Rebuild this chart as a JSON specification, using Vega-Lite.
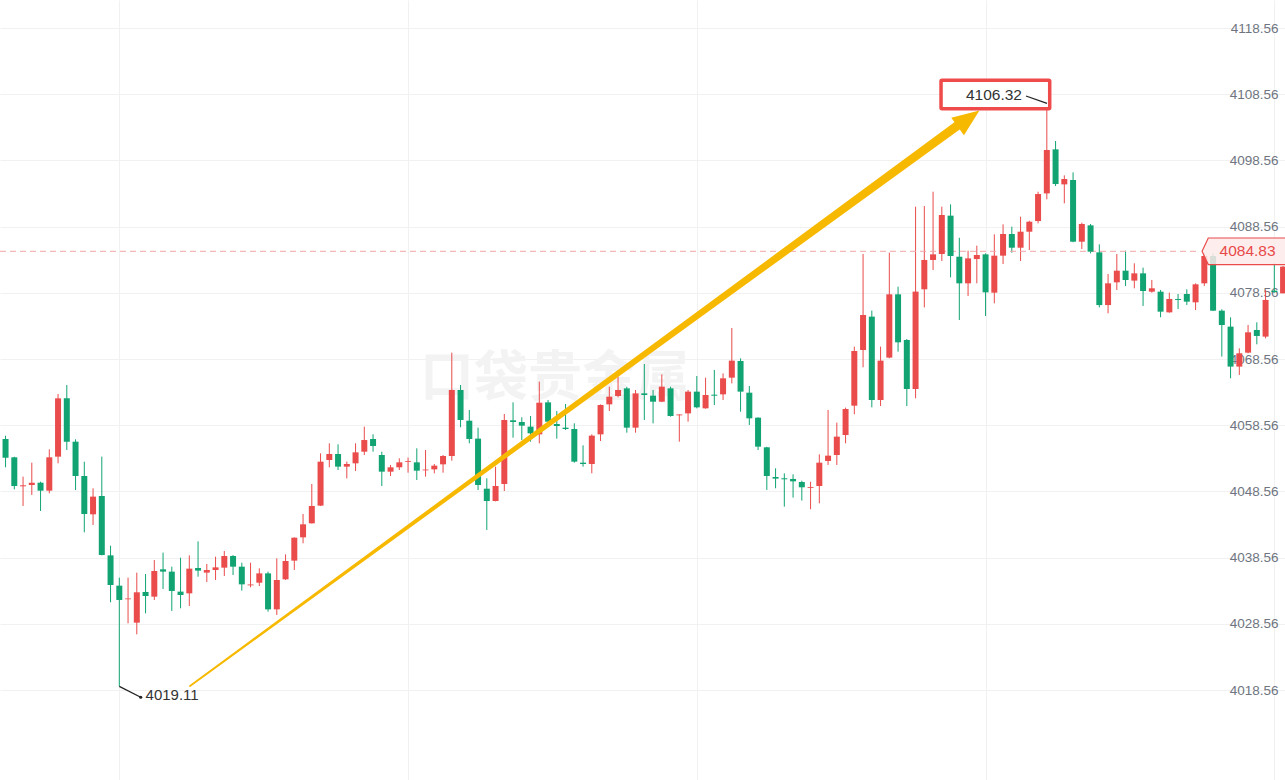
{
  "$schema": "https://vega.github.io/schema/vega-lite/v6.json",
  "width": 1285,
  "height": 780,
  "autosize": {"type": "none"},
  "padding": 0,
  "background": "#ffffff",
  "config": {"view": {"stroke": null}},
  "datasets": {
    "k": [
      {"i":1,"o":4056.48,"h":4056.98,"l":4052.20,"c":4053.66},
      {"i":2,"o":4053.71,"h":4053.80,"l":4048.87,"c":4049.38},
      {"i":3,"o":4049.33,"h":4050.79,"l":4046.36,"c":4049.48},
      {"i":4,"o":4049.53,"h":4052.90,"l":4048.02,"c":4049.88},
      {"i":5,"o":4049.88,"h":4050.03,"l":4045.60,"c":4048.67},
      {"i":6,"o":4048.67,"h":4054.92,"l":4048.27,"c":4053.71},
      {"i":7,"o":4053.81,"h":4063.27,"l":4052.80,"c":4062.62},
      {"i":8,"o":4062.62,"h":4064.63,"l":4054.82,"c":4056.07},
      {"i":9,"o":4056.07,"h":4056.43,"l":4048.77,"c":4050.89},
      {"i":10,"o":4050.89,"h":4053.05,"l":4042.38,"c":4045.15},
      {"i":11,"o":4045.10,"h":4049.02,"l":4043.49,"c":4047.77},
      {"i":12,"o":4047.87,"h":4053.81,"l":4038.90,"c":4038.95},
      {"i":13,"o":4038.90,"h":4040.36,"l":4031.80,"c":4034.42},
      {"i":14,"o":4034.32,"h":4035.53,"l":4019.11,"c":4032.16},
      {"i":15,"o":4032.26,"h":4035.53,"l":4028.63,"c":4032.40},
      {"i":16,"o":4028.73,"h":4036.29,"l":4026.97,"c":4033.32},
      {"i":17,"o":4033.37,"h":4036.08,"l":4030.14,"c":4032.76},
      {"i":18,"o":4032.66,"h":4038.20,"l":4032.16,"c":4036.54},
      {"i":19,"o":4036.79,"h":4039.31,"l":4033.82,"c":4036.44},
      {"i":20,"o":4036.44,"h":4037.19,"l":4030.50,"c":4033.52},
      {"i":21,"o":4033.42,"h":4038.55,"l":4030.90,"c":4032.91},
      {"i":22,"o":4033.16,"h":4038.90,"l":4031.25,"c":4036.89},
      {"i":23,"o":4036.99,"h":4041.02,"l":4035.68,"c":4036.59},
      {"i":24,"o":4036.29,"h":4037.60,"l":4034.88,"c":4036.69},
      {"i":25,"o":4036.69,"h":4038.70,"l":4035.18,"c":4037.09},
      {"i":26,"o":4037.04,"h":4039.56,"l":4035.78,"c":4038.80},
      {"i":27,"o":4038.80,"h":4038.95,"l":4035.93,"c":4037.19},
      {"i":28,"o":4037.19,"h":4037.79,"l":4033.57,"c":4034.52},
      {"i":29,"o":4034.37,"h":4037.79,"l":4034.07,"c":4034.50},
      {"i":30,"o":4034.77,"h":4036.94,"l":4034.27,"c":4036.18},
      {"i":31,"o":4036.18,"h":4036.44,"l":4030.39,"c":4030.74},
      {"i":32,"o":4030.74,"h":4038.45,"l":4029.89,"c":4035.18},
      {"i":33,"o":4035.28,"h":4039.05,"l":4035.18,"c":4038.05},
      {"i":34,"o":4038.10,"h":4041.62,"l":4036.69,"c":4041.57},
      {"i":35,"o":4041.62,"h":4045.15,"l":4040.72,"c":4043.59},
      {"i":36,"o":4043.74,"h":4049.68,"l":4043.70,"c":4046.36},
      {"i":37,"o":4046.41,"h":4054.31,"l":4046.36,"c":4053.05},
      {"i":38,"o":4053.30,"h":4055.82,"l":4052.20,"c":4054.21},
      {"i":39,"o":4054.21,"h":4055.67,"l":4051.79,"c":4052.30},
      {"i":40,"o":4052.30,"h":4053.05,"l":4050.53,"c":4052.70},
      {"i":41,"o":4052.80,"h":4055.82,"l":4051.64,"c":4054.46},
      {"i":42,"o":4054.56,"h":4058.34,"l":4054.06,"c":4056.32},
      {"i":43,"o":4056.48,"h":4057.18,"l":4054.56,"c":4055.42},
      {"i":44,"o":4054.06,"h":4054.56,"l":4049.38,"c":4051.54},
      {"i":45,"o":4051.54,"h":4052.55,"l":4050.89,"c":4052.20},
      {"i":46,"o":4052.20,"h":4053.56,"l":4051.79,"c":4052.95},
      {"i":47,"o":4053.00,"h":4053.66,"l":4051.39,"c":4053.12},
      {"i":48,"o":4052.95,"h":4055.07,"l":4050.28,"c":4051.69},
      {"i":49,"o":4051.74,"h":4054.81,"l":4050.79,"c":4051.86},
      {"i":50,"o":4051.89,"h":4052.70,"l":4051.29,"c":4052.45},
      {"i":51,"o":4052.65,"h":4054.06,"l":4051.39,"c":4053.91},
      {"i":52,"o":4053.91,"h":4069.52,"l":4053.20,"c":4063.88},
      {"i":53,"o":4063.88,"h":4064.63,"l":4058.24,"c":4059.35},
      {"i":54,"o":4059.24,"h":4060.86,"l":4055.82,"c":4056.48},
      {"i":55,"o":4056.53,"h":4058.19,"l":4048.77,"c":4049.53},
      {"i":56,"o":4048.97,"h":4050.53,"l":4042.73,"c":4047.11},
      {"i":57,"o":4047.11,"h":4052.30,"l":4047.05,"c":4049.38},
      {"i":58,"o":4049.68,"h":4060.25,"l":4048.62,"c":4059.35},
      {"i":59,"o":4059.30,"h":4062.01,"l":4056.68,"c":4059.04},
      {"i":60,"o":4059.04,"h":4059.75,"l":4056.32,"c":4058.49},
      {"i":61,"o":4058.34,"h":4059.95,"l":4056.07,"c":4057.33},
      {"i":62,"o":4057.18,"h":4065.14,"l":4055.82,"c":4061.96},
      {"i":63,"o":4062.01,"h":4062.37,"l":4058.34,"c":4059.09},
      {"i":64,"o":4058.74,"h":4060.70,"l":4056.53,"c":4058.44},
      {"i":65,"o":4058.19,"h":4061.76,"l":4057.83,"c":4057.99},
      {"i":66,"o":4057.99,"h":4058.84,"l":4052.90,"c":4053.05},
      {"i":67,"o":4052.90,"h":4055.52,"l":4052.30,"c":4052.70},
      {"i":68,"o":4052.70,"h":4057.18,"l":4051.29,"c":4056.98},
      {"i":69,"o":4057.18,"h":4061.70,"l":4056.17,"c":4061.61},
      {"i":70,"o":4061.71,"h":4064.38,"l":4060.70,"c":4062.87},
      {"i":71,"o":4062.97,"h":4065.89,"l":4062.77,"c":4063.88},
      {"i":72,"o":4064.13,"h":4064.38,"l":4057.43,"c":4058.19},
      {"i":73,"o":4058.19,"h":4063.88,"l":4057.43,"c":4063.37},
      {"i":74,"o":4063.37,"h":4067.80,"l":4059.35,"c":4063.12},
      {"i":75,"o":4063.02,"h":4063.88,"l":4058.84,"c":4062.11},
      {"i":76,"o":4062.11,"h":4066.24,"l":4062.05,"c":4064.38},
      {"i":77,"o":4064.13,"h":4064.38,"l":4059.85,"c":4059.95},
      {"i":78,"o":4060.05,"h":4060.20,"l":4056.07,"c":4060.18},
      {"i":79,"o":4060.35,"h":4063.88,"l":4059.09,"c":4063.63},
      {"i":80,"o":4063.63,"h":4065.99,"l":4061.11,"c":4061.26},
      {"i":81,"o":4061.11,"h":4065.74,"l":4061.05,"c":4063.12},
      {"i":82,"o":4063.17,"h":4066.90,"l":4061.61,"c":4063.02},
      {"i":83,"o":4063.22,"h":4066.39,"l":4062.37,"c":4065.64},
      {"i":84,"o":4065.74,"h":4073.24,"l":4064.88,"c":4068.31},
      {"i":85,"o":4068.26,"h":4068.66,"l":4060.60,"c":4063.63},
      {"i":86,"o":4063.47,"h":4064.48,"l":4058.59,"c":4059.60},
      {"i":87,"o":4059.70,"h":4059.75,"l":4054.81,"c":4055.32},
      {"i":88,"o":4055.22,"h":4055.30,"l":4048.78,"c":4050.89},
      {"i":89,"o":4050.74,"h":4052.05,"l":4049.03,"c":4050.49},
      {"i":90,"o":4050.54,"h":4051.29,"l":4046.26,"c":4050.39},
      {"i":91,"o":4050.44,"h":4051.14,"l":4047.62,"c":4050.08},
      {"i":92,"o":4049.98,"h":4050.18,"l":4047.17,"c":4049.18},
      {"i":93,"o":4049.10,"h":4050.03,"l":4045.86,"c":4049.23},
      {"i":94,"o":4049.38,"h":4054.16,"l":4046.76,"c":4052.90},
      {"i":95,"o":4053.16,"h":4060.86,"l":4052.55,"c":4053.96},
      {"i":96,"o":4054.06,"h":4058.95,"l":4052.55,"c":4056.83},
      {"i":97,"o":4057.08,"h":4061.21,"l":4055.82,"c":4061.01},
      {"i":98,"o":4061.51,"h":4070.43,"l":4060.21,"c":4069.77},
      {"i":99,"o":4069.92,"h":4084.43,"l":4067.31,"c":4075.21},
      {"i":100,"o":4074.96,"h":4075.87,"l":4061.26,"c":4062.37},
      {"i":101,"o":4062.37,"h":4070.43,"l":4061.46,"c":4068.31},
      {"i":102,"o":4068.77,"h":4084.63,"l":4068.66,"c":4078.33},
      {"i":103,"o":4078.33,"h":4079.49,"l":4069.67,"c":4071.08},
      {"i":104,"o":4071.43,"h":4071.58,"l":4061.46,"c":4064.03},
      {"i":105,"o":4064.03,"h":4091.57,"l":4062.62,"c":4078.74},
      {"i":106,"o":4079.09,"h":4091.67,"l":4076.35,"c":4083.52},
      {"i":107,"o":4083.52,"h":4093.83,"l":4082.00,"c":4084.37},
      {"i":108,"o":4084.42,"h":4091.57,"l":4083.37,"c":4090.31},
      {"i":109,"o":4090.21,"h":4091.92,"l":4080.89,"c":4084.12},
      {"i":110,"o":4084.01,"h":4086.88,"l":4074.45,"c":4079.99},
      {"i":111,"o":4079.99,"h":4084.92,"l":4078.07,"c":4083.76},
      {"i":112,"o":4083.66,"h":4085.68,"l":4079.99,"c":4084.27},
      {"i":113,"o":4084.37,"h":4084.52,"l":4075.05,"c":4078.63},
      {"i":114,"o":4078.58,"h":4087.39,"l":4076.97,"c":4084.17},
      {"i":115,"o":4084.17,"h":4088.90,"l":4082.91,"c":4087.44},
      {"i":116,"o":4087.44,"h":4088.55,"l":4084.62,"c":4085.37},
      {"i":117,"o":4085.37,"h":4090.06,"l":4083.36,"c":4087.79},
      {"i":118,"o":4087.79,"h":4089.45,"l":4085.02,"c":4089.30},
      {"i":119,"o":4089.40,"h":4093.83,"l":4089.05,"c":4093.48},
      {"i":120,"o":4093.58,"h":4106.32,"l":4092.68,"c":4100.13},
      {"i":121,"o":4100.23,"h":4101.49,"l":4094.69,"c":4094.99},
      {"i":122,"o":4094.94,"h":4096.30,"l":4092.07,"c":4095.75},
      {"i":123,"o":4095.60,"h":4096.75,"l":4086.20,"c":4086.28},
      {"i":124,"o":4086.28,"h":4089.15,"l":4085.17,"c":4088.95},
      {"i":125,"o":4088.75,"h":4088.95,"l":4084.52,"c":4084.77},
      {"i":126,"o":4084.67,"h":4085.88,"l":4076.36,"c":4076.71},
      {"i":127,"o":4076.71,"h":4081.40,"l":4075.46,"c":4079.99},
      {"i":128,"o":4080.14,"h":4084.42,"l":4078.98,"c":4081.90},
      {"i":129,"o":4081.90,"h":4084.92,"l":4079.58,"c":4080.49},
      {"i":130,"o":4080.40,"h":4083.01,"l":4079.24,"c":4081.50},
      {"i":131,"o":4081.50,"h":4082.36,"l":4076.57,"c":4078.83},
      {"i":132,"o":4078.73,"h":4080.50,"l":4078.58,"c":4079.24},
      {"i":133,"o":4078.73,"h":4078.99,"l":4074.86,"c":4075.71},
      {"i":134,"o":4075.61,"h":4078.58,"l":4075.56,"c":4077.63},
      {"i":135,"o":4077.63,"h":4078.38,"l":4076.12,"c":4077.48},
      {"i":136,"o":4078.38,"h":4079.09,"l":4076.72,"c":4077.22},
      {"i":137,"o":4077.12,"h":4079.99,"l":4075.96,"c":4079.84},
      {"i":138,"o":4079.99,"h":4084.52,"l":4079.59,"c":4084.12},
      {"i":139,"o":4084.12,"h":4084.52,"l":4075.80,"c":4075.86},
      {"i":140,"o":4075.86,"h":4076.07,"l":4068.92,"c":4073.70},
      {"i":141,"o":4073.45,"h":4074.86,"l":4065.64,"c":4067.41},
      {"i":142,"o":4067.41,"h":4070.17,"l":4066.15,"c":4069.42},
      {"i":143,"o":4069.52,"h":4073.70,"l":4069.42,"c":4072.59},
      {"i":144,"o":4072.94,"h":4074.10,"l":4070.78,"c":4072.04},
      {"i":145,"o":4071.94,"h":4078.99,"l":4071.68,"c":4077.48},
      {"i":146,"o":4078.89,"h":4083.01,"l":4078.58,"c":4078.68},
      {"i":147,"o":4078.48,"h":4082.60,"l":4078.48,"c":4082.51}
    ]
  },
  "layer": [
    {
      "data": {"values": [{"i": 63.8, "v": 4065.4, "t": "口袋贵金属"}]},
      "mark": {"type": "text", "font": "Noto Sans CJK SC", "fontWeight": "bold", "fontSize": 54, "color": "#f3f3f3", "align": "center", "baseline": "middle"},
      "encoding": {
        "x": {"field": "i", "type": "quantitative"},
        "y": {"field": "v", "type": "quantitative"},
        "text": {"field": "t"}
      }
    },
    {
      "data": {"name": "k"},
      "mark": {"type": "rule", "strokeWidth": 1, "clip": true},
      "encoding": {
        "x": {
          "field": "i", "type": "quantitative",
          "scale": {"domain": [0.3657, 147.22], "nice": false, "zero": false, "padding": 0},
          "axis": {"values": [14, 47, 80, 113, 146], "grid": true, "gridColor": "#f1f1f1", "labels": false, "ticks": false, "domain": false, "title": null}
        },
        "y": {
          "field": "l", "type": "quantitative",
          "scale": {"domain": [4004.965, 4122.79], "nice": false, "zero": false, "padding": 0},
          "axis": {
            "orient": "right", "title": null, "domain": false, "ticks": false,
            "values": [4018.56, 4028.56, 4038.56, 4048.56, 4058.56, 4068.56, 4078.56, 4088.56, 4098.56, 4108.56, 4118.56],
            "format": ".2f", "grid": true, "gridColor": "#f1f1f1",
            "labelAlign": "right", "labelBaseline": "middle", "labelPadding": -7,
            "labelFlush": false, "labelOverlap": false,
            "labelFont": "Liberation Sans", "labelFontSize": 13.5, "labelColor": "#6e7580"
          }
        },
        "y2": {"field": "h"},
        "color": {"condition": {"test": "datum.c >= datum.o", "value": "#ea4b4b"}, "value": "#11a472"}
      }
    },
    {
      "data": {"values": [{"a": 0.3657, "b": 137.4, "v": 4084.83}]},
      "mark": {"type": "rule", "color": "#f3a5a5", "strokeWidth": 1, "strokeDash": [6, 4]},
      "encoding": {
        "x": {"field": "a", "type": "quantitative"},
        "x2": {"field": "b"},
        "y": {"field": "v", "type": "quantitative"}
      }
    },
    {
      "data": {"name": "k"},
      "mark": {"type": "bar", "size": 6, "clip": true},
      "encoding": {
        "x": {"field": "i", "type": "quantitative"},
        "y": {"field": "o", "type": "quantitative"},
        "y2": {"field": "c"},
        "color": {"condition": {"test": "datum.c >= datum.o", "value": "#ea4b4b"}, "value": "#11a472"}
      }
    },
    {
      "data": {"values": [
        {"i": 22.08, "v": 4019.17, "w": 1.8, "n": 1},
        {"i": 109.74, "v": 4103.76, "w": 9, "n": 2}
      ]},
      "mark": {"type": "trail", "color": "#f7b900"},
      "encoding": {
        "x": {"field": "i", "type": "quantitative"},
        "y": {"field": "v", "type": "quantitative"},
        "size": {"field": "w", "type": "quantitative", "scale": null},
        "order": {"field": "n"}
      }
    },
    {
      "data": {"values": [{"i": 111.05, "v": 4104.89}]},
      "mark": {"type": "point", "shape": "M1,0L-1,-0.8L-1,0.8Z", "size": 729, "angle": -36.1, "filled": true, "color": "#f7b900", "opacity": 1, "strokeWidth": 0},
      "encoding": {
        "x": {"field": "i", "type": "quantitative"},
        "y": {"field": "v", "type": "quantitative"}
      }
    },
    {
      "data": {"values": [{"a": 14, "va": 4019.11, "b": 16.45, "vb": 4017.46}]},
      "mark": {"type": "rule", "color": "#222222", "strokeWidth": 1.3},
      "encoding": {
        "x": {"field": "a", "type": "quantitative"},
        "y": {"field": "va", "type": "quantitative"},
        "x2": {"field": "b"},
        "y2": {"field": "vb"}
      }
    },
    {
      "data": {"values": [{"i": 16.45, "v": 4017.46}, {"i": 117.62, "v": 4108.29}]},
      "mark": {"type": "point", "shape": "circle", "size": 10, "filled": true, "color": "#222222", "opacity": 1},
      "encoding": {
        "x": {"field": "i", "type": "quantitative"},
        "y": {"field": "v", "type": "quantitative"}
      }
    },
    {
      "data": {"values": [{"i": 17.0, "v": 4017.8, "t": "4019.11"}]},
      "mark": {"type": "text", "font": "Liberation Sans", "fontSize": 15, "color": "#333333", "align": "left", "baseline": "middle"},
      "encoding": {
        "x": {"field": "i", "type": "quantitative"},
        "y": {"field": "v", "type": "quantitative"},
        "text": {"field": "t"}
      }
    },
    {
      "data": {"values": [{"a": 107.91, "b": 120.33, "va": 4110.66, "vb": 4106.37}]},
      "mark": {"type": "rect", "fill": "#ffffff", "stroke": "#ef4b4b", "strokeWidth": 3.5, "cornerRadius": 1},
      "encoding": {
        "x": {"field": "a", "type": "quantitative"},
        "x2": {"field": "b"},
        "y": {"field": "va", "type": "quantitative"},
        "y2": {"field": "vb"}
      }
    },
    {
      "data": {"values": [{"i": 117.16, "v": 4108.44, "t": "4106.32"}]},
      "mark": {"type": "text", "font": "Liberation Sans", "fontSize": 15.5, "color": "#333333", "align": "right", "baseline": "middle"},
      "encoding": {
        "x": {"field": "i", "type": "quantitative"},
        "y": {"field": "v", "type": "quantitative"},
        "text": {"field": "t"}
      }
    },
    {
      "data": {"values": [{"a": 117.62, "va": 4108.29, "b": 120.02, "vb": 4107.19}]},
      "mark": {"type": "rule", "color": "#222222", "strokeWidth": 1.3},
      "encoding": {
        "x": {"field": "a", "type": "quantitative"},
        "y": {"field": "va", "type": "quantitative"},
        "x2": {"field": "b"},
        "y2": {"field": "vb"}
      }
    },
    {
      "data": {"values": [{"i": 142.8, "v": 4084.83}]},
      "mark": {"type": "point", "shape": "M-1,0L-0.86,-0.3L1,-0.3L1,0.3L-0.86,0.3Z", "size": 7832, "filled": true, "fill": "#fdeaea", "fillOpacity": 0.85, "stroke": "#ea4b4b", "strokeWidth": 1.2, "opacity": 1},
      "encoding": {
        "x": {"field": "i", "type": "quantitative"},
        "y": {"field": "v", "type": "quantitative"}
      }
    },
    {
      "data": {"values": [{"i": 142.94, "v": 4084.83, "t": "4084.83"}]},
      "mark": {"type": "text", "font": "Liberation Sans", "fontSize": 15.5, "color": "#e84a4a", "align": "center", "baseline": "middle"},
      "encoding": {
        "x": {"field": "i", "type": "quantitative"},
        "y": {"field": "v", "type": "quantitative"},
        "text": {"field": "t"}
      }
    }
  ]
}
